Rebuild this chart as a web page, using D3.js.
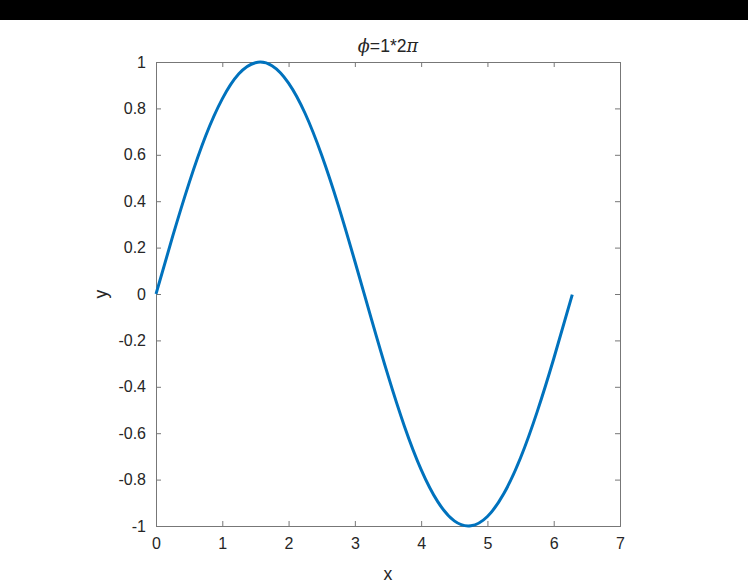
<!DOCTYPE html>
<html>
<head>
<meta charset="utf-8">
<script src="https://cdn.jsdelivr.net/npm/d3@7"></script>
<style>
  body { margin: 0; background: #fff; }
  svg { display: block; }
  text { font-family: "Liberation Sans", Arial, sans-serif; fill: #262626; }
</style>
</head>
<body>
<div id="chart"></div>
<script>
// values
const xValues = [0, 0.25, 0.5, 0.75, 1, 1.25, 1.5, 1.75, 2, 2.25, 2.5, 2.75, 3, 3.25, 3.5,
                 3.75, 4, 4.25, 4.5, 4.75, 5, 5.25, 5.5, 5.75, 6, 6.28];
const yValues = [0, 0.247, 0.479, 0.682, 0.841, 0.949, 0.997, 0.984, 0.909, 0.778, 0.598, 0.382, 0.141, -0.108, -0.351,
                 -0.572, -0.757, -0.895, -0.978, -0.999, -0.959, -0.859, -0.706, -0.508, -0.279, -0.003];
const xTicks = [0, 1, 2, 3, 4, 5, 6, 7];
const yTicks = [-1, -0.8, -0.6, -0.4, -0.2, 0, 0.2, 0.4, 0.6, 0.8, 1];

const width = 748, height = 588;
const plotLeft = 156, plotRight = 620, plotTop = 62, plotBottom = 526;
const tickLen = 5;

const svg = d3.select("#chart").append("svg")
    .attr("width", width)
    .attr("height", height);

// black strip along the top of the figure
svg.append("rect")
    .attr("x", 0).attr("y", 0)
    .attr("width", width).attr("height", 20)
    .attr("fill", "#000");

const x = d3.scaleLinear().domain([0, 7]).range([plotLeft, plotRight]);
const y = d3.scaleLinear().domain([-1, 1]).range([plotBottom, plotTop]);

const axisColor = "#777";

// matlab style labels: plain hyphen for negatives
const fmt = d => String(+d.toFixed(1));

// bottom + top axes, ticks pointing inward
svg.append("g")
    .attr("transform", `translate(0,${plotBottom})`)
    .call(d3.axisBottom(x).tickValues(xTicks).tickSize(-tickLen).tickPadding(12).tickFormat(fmt));
svg.append("g")
    .attr("transform", `translate(0,${plotTop})`)
    .call(d3.axisTop(x).tickValues(xTicks).tickSize(-tickLen).tickFormat(""));

// left + right axes
svg.append("g")
    .attr("transform", `translate(${plotLeft},0)`)
    .call(d3.axisLeft(y).tickValues(yTicks).tickSize(-tickLen).tickPadding(10).tickFormat(fmt));
svg.append("g")
    .attr("transform", `translate(${plotRight},0)`)
    .call(d3.axisRight(y).tickValues(yTicks).tickSize(-tickLen).tickFormat(""));

svg.selectAll(".domain, .tick line")
    .attr("stroke", axisColor)
    .attr("stroke-width", 1);
svg.selectAll(".tick text")
    .attr("font-size", 16)
    .attr("fill", "#262626")
    .style("font-family", "'Liberation Sans', Arial, sans-serif");

// the curve
const line = d3.line()
    .x((d, i) => x(xValues[i]))
    .y(d => y(d))
    .curve(d3.curveNatural);

svg.append("path")
    .datum(yValues)
    .attr("fill", "none")
    .attr("stroke", "#0072BD")
    .attr("stroke-width", 3)
    .attr("stroke-linejoin", "round")
    .attr("d", line);

// labels
svg.append("text")
    .attr("x", (plotLeft + plotRight) / 2)
    .attr("y", 580)
    .attr("text-anchor", "middle")
    .attr("font-size", 17.6)
    .text("x");

svg.append("text")
    .attr("transform", `translate(107,${y(0)}) rotate(-90)`)
    .attr("text-anchor", "middle")
    .attr("font-size", 17.6)
    .text("y");

const title = svg.append("text")
    .attr("x", (plotLeft + plotRight) / 2)
    .attr("y", 52)
    .attr("text-anchor", "middle")
    .attr("font-size", 17.6);
title.append("tspan")
    .attr("font-style", "italic")
    .style("font-family", "'DejaVu Serif', serif")
    .text("ϕ");
title.append("tspan").text("=1*2");
title.append("tspan")
    .attr("font-style", "italic")
    .style("font-family", "'DejaVu Serif', serif")
    .text("π");
</script>
</body>
</html>
